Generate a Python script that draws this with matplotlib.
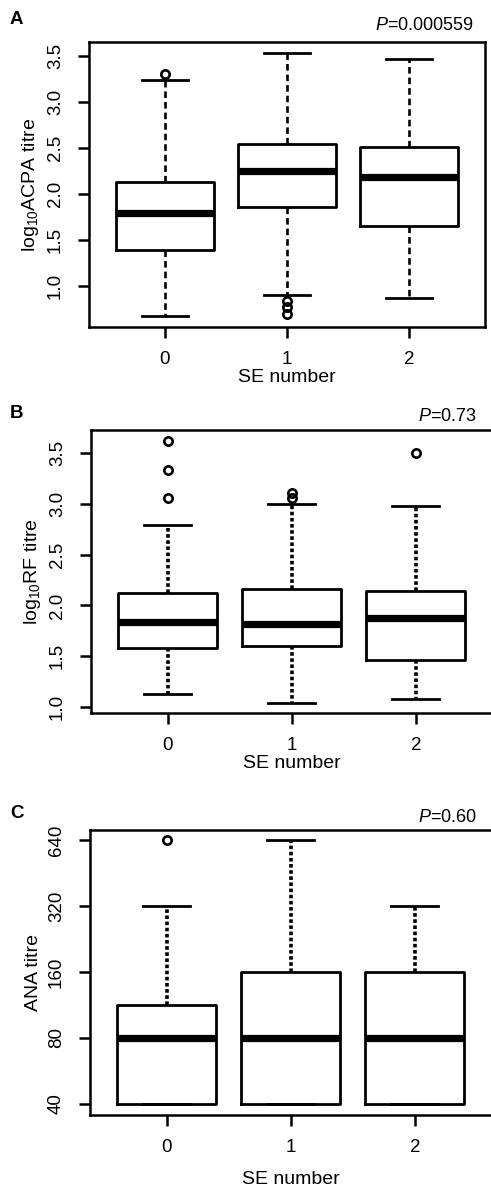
import matplotlib
matplotlib.use("Agg")
import matplotlib.pyplot as plt
from matplotlib.ticker import NullLocator

plt.rcParams['font.family'] = ['Liberation Sans', 'DejaVu Sans']
plt.rcParams['mathtext.fontset'] = 'custom'
plt.rcParams['mathtext.rm'] = 'Liberation Sans'
plt.rcParams['mathtext.it'] = 'Liberation Sans:italic'

groups = ["0", "1", "2"]

# Panel A: log10 ACPA titre
a_q1 = [1.39, 1.86, 1.65]
a_med = [1.79, 2.25, 2.19]
a_q3 = [2.13, 2.54, 2.51]
a_lo = [0.67, 0.90, 0.87]
a_hi = [3.24, 3.54, 3.47]
a_out = [[3.31], [0.84, 0.77, 0.70], []]

# Panel B: log10 RF titre
b_q1 = [1.58, 1.60, 1.46]
b_med = [1.84, 1.82, 1.88]
b_q3 = [2.12, 2.16, 2.14]
b_lo = [1.13, 1.04, 1.08]
b_hi = [2.79, 3.00, 2.98]
b_out = [[3.62, 3.33, 3.06], [3.11, 3.06], [3.50]]

# Panel C: ANA titre
c_q1 = [40, 40, 40]
c_med = [80, 80, 80]
c_q3 = [113, 160, 160]
c_lo = [40, 40, 40]
c_hi = [320, 640, 320]
c_out = [[640], [], []]

c_ticks = [40, 80, 160, 320, 640]

fig = plt.figure(figsize=(4.91, 11.86), dpi=100)

def make_stats(q1, med, q3, lo, hi, out):
    return [dict(q1=q1[i], med=med[i], q3=q3[i], whislo=lo[i], whishi=hi[i],
                 fliers=out[i], label=groups[i]) for i in range(len(groups))]

def draw(ax, stats, wstyle, wlw):
    ax.bxp(stats, positions=range(len(groups)), widths=0.8, capwidths=0.38,
           boxprops=dict(color='black', linewidth=2.0),
           medianprops=dict(color='black', linewidth=5.2, solid_capstyle='butt'),
           whiskerprops=dict(color='black', linewidth=wlw, linestyle=wstyle),
           capprops=dict(color='black', linewidth=2.0),
           flierprops=dict(marker='o', markersize=6, markerfacecolor='none',
                           markeredgecolor='black', markeredgewidth=1.9))
    ax.set_xlim(-0.62, 2.62)
    for s in ax.spines.values():
        s.set_linewidth(1.8)
    ax.tick_params(axis='both', length=8, width=1.8, labelsize=13.5, pad=9)
    ax.tick_params(axis='y', labelrotation=90, pad=10)
    ax.set_xlabel("SE number", fontsize=14, labelpad=1)

# A
axA = fig.add_axes([0.1813, 0.7243, 0.8065, 0.2403])
draw(axA, make_stats(a_q1, a_med, a_q3, a_lo, a_hi, a_out), (0, (2.5, 1.5)), 1.9)
axA.set_ylim(0.555, 3.655)
axA.set_yticks([1.0, 1.5, 2.0, 2.5, 3.0, 3.5])
axA.set_yticklabels(["1.0", "1.5", "2.0", "2.5", "3.0", "3.5"], va='center')
axA.set_ylabel(r"log$_{10}$ACPA titre", fontsize=14, labelpad=4)
fig.text(10/491, 1 - 19/1186, "A", fontsize=13.5, fontweight='bold', va='center', ha='left')
fig.text(473/491, 1 - 25/1186, r"$P$=0.000559", fontsize=13, va='center', ha='right')

# B
axB = fig.add_axes([0.1853, 0.3988, 0.818, 0.2386])
draw(axB, make_stats(b_q1, b_med, b_q3, b_lo, b_hi, b_out), (0, (1.0, 0.7)), 2.6)
axB.set_ylim(0.94, 3.728)
axB.set_yticks([1.0, 1.5, 2.0, 2.5, 3.0, 3.5])
axB.set_yticklabels(["1.0", "1.5", "2.0", "2.5", "3.0", "3.5"], va='center')
axB.set_ylabel(r"log$_{10}$RF titre", fontsize=14, labelpad=4)
fig.text(10/491, 1 - 414/1186, "B", fontsize=13.5, fontweight='bold', va='center', ha='left')
fig.text(477/491, 1 - 417/1186, r"$P$=0.73", fontsize=13, va='center', ha='right')

# C
axC = fig.add_axes([0.1833, 0.0599, 0.818, 0.2403])
axC.set_yscale('log', base=2)
draw(axC, make_stats(c_q1, c_med, c_q3, c_lo, c_hi, c_out), (0, (1.0, 0.7)), 2.6)
axC.set_ylim(40 / 2 ** 0.17, 640 * 2 ** 0.16)
axC.set_yticks(c_ticks)
axC.set_yticklabels([str(t) for t in c_ticks], va='center')
axC.yaxis.set_minor_locator(NullLocator())
axC.set_ylabel("ANA titre", fontsize=14, labelpad=4)
axC.xaxis.labelpad = 11
fig.text(10/491, 1 - 814/1186, "C", fontsize=13.5, fontweight='bold', va='center', ha='left')
fig.text(477/491, 1 - 817/1186, r"$P$=0.60", fontsize=13, va='center', ha='right')

fig.savefig("out.png", dpi=100)
